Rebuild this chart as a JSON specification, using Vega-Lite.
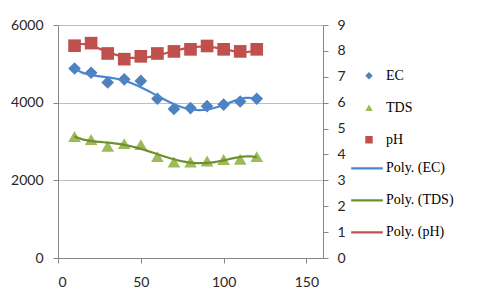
{
  "$schema": "https://vega.github.io/schema/vega-lite/v6.json",
  "width": 265,
  "height": 233,
  "autosize": {"type": "none"},
  "padding": {"left": 58, "top": 25, "right": 157, "bottom": 47},
  "background": "white",
  "config": {
    "view": {"stroke": null},
    "axis": {"labelFont": "Lato", "labelFontSize": 14, "labelColor": "#262626", "domainColor": "#868686", "tickColor": "#868686", "tickSize": 5, "title": null, "labelPadding": 9, "labelOverlap": false, "format": "d"},
    "legend": {"labelFont": "Liberation Serif", "labelFontSize": 14, "labelColor": "#000000", "padding": 0, "rowPadding": 0, "clipHeight": 31.6, "title": null}
  },
  "data": {"values": [
    {"x": 10, "series": "EC", "trend": "Poly. (EC)", "value": 4880},
    {"x": 20, "series": "EC", "trend": "Poly. (EC)", "value": 4770},
    {"x": 30, "series": "EC", "trend": "Poly. (EC)", "value": 4520},
    {"x": 40, "series": "EC", "trend": "Poly. (EC)", "value": 4600},
    {"x": 50, "series": "EC", "trend": "Poly. (EC)", "value": 4560},
    {"x": 60, "series": "EC", "trend": "Poly. (EC)", "value": 4100},
    {"x": 70, "series": "EC", "trend": "Poly. (EC)", "value": 3840},
    {"x": 80, "series": "EC", "trend": "Poly. (EC)", "value": 3860},
    {"x": 90, "series": "EC", "trend": "Poly. (EC)", "value": 3910},
    {"x": 100, "series": "EC", "trend": "Poly. (EC)", "value": 3950},
    {"x": 110, "series": "EC", "trend": "Poly. (EC)", "value": 4030},
    {"x": 120, "series": "EC", "trend": "Poly. (EC)", "value": 4100},
    {"x": 10, "series": "TDS", "trend": "Poly. (TDS)", "value": 3130},
    {"x": 20, "series": "TDS", "trend": "Poly. (TDS)", "value": 3050},
    {"x": 30, "series": "TDS", "trend": "Poly. (TDS)", "value": 2880},
    {"x": 40, "series": "TDS", "trend": "Poly. (TDS)", "value": 2945},
    {"x": 50, "series": "TDS", "trend": "Poly. (TDS)", "value": 2920},
    {"x": 60, "series": "TDS", "trend": "Poly. (TDS)", "value": 2610},
    {"x": 70, "series": "TDS", "trend": "Poly. (TDS)", "value": 2470},
    {"x": 80, "series": "TDS", "trend": "Poly. (TDS)", "value": 2470},
    {"x": 90, "series": "TDS", "trend": "Poly. (TDS)", "value": 2500},
    {"x": 100, "series": "TDS", "trend": "Poly. (TDS)", "value": 2535},
    {"x": 110, "series": "TDS", "trend": "Poly. (TDS)", "value": 2545},
    {"x": 120, "series": "TDS", "trend": "Poly. (TDS)", "value": 2610},
    {"x": 10, "series": "pH", "trend": "Poly. (pH)", "value": 8.2},
    {"x": 20, "series": "pH", "trend": "Poly. (pH)", "value": 8.3},
    {"x": 30, "series": "pH", "trend": "Poly. (pH)", "value": 7.9},
    {"x": 40, "series": "pH", "trend": "Poly. (pH)", "value": 7.68},
    {"x": 50, "series": "pH", "trend": "Poly. (pH)", "value": 7.79},
    {"x": 60, "series": "pH", "trend": "Poly. (pH)", "value": 7.9},
    {"x": 70, "series": "pH", "trend": "Poly. (pH)", "value": 7.98},
    {"x": 80, "series": "pH", "trend": "Poly. (pH)", "value": 8.06},
    {"x": 90, "series": "pH", "trend": "Poly. (pH)", "value": 8.19},
    {"x": 100, "series": "pH", "trend": "Poly. (pH)", "value": 8.06},
    {"x": 110, "series": "pH", "trend": "Poly. (pH)", "value": 7.98},
    {"x": 120, "series": "pH", "trend": "Poly. (pH)", "value": 8.06}
  ]},
  "layer": [
    {
      "transform": [{"filter": "datum.series !== 'pH'"}],
      "layer": [
        {
          "mark": {"type": "point", "filled": true, "opacity": 1, "size": 160},
          "encoding": {
            "x": {"field": "x", "type": "quantitative", "scale": {"domain": [0, 150]}, "axis": {"values": [0, 50, 100, 150], "grid": false, "labelPadding": 12}},
            "y": {"field": "value", "type": "quantitative", "scale": {"domain": [0, 6000]}, "axis": {"values": [0, 1000, 2000, 3000, 4000, 5000, 6000], "grid": true, "gridColor": "#bfbfbf", "labelPadding": 10}},
            "color": {
              "field": "series", "type": "nominal",
              "scale": {"domain": ["EC", "TDS", "pH"], "range": ["#4f81bd", "#9bbb59", "#c0504d"]},
              "legend": {"orient": "none", "legendX": 304, "legendY": 35, "symbolSize": 55, "labelOffset": 10}
            },
            "shape": {
              "field": "series", "type": "nominal",
              "scale": {"domain": ["EC", "TDS", "pH"], "range": ["diamond", "triangle-up", "square"]},
              "legend": {"orient": "none", "legendX": 304, "legendY": 35, "symbolSize": 55, "labelOffset": 10}
            }
          }
        },
        {
          "transform": [{"regression": "value", "on": "x", "groupby": ["trend"], "method": "poly", "order": 5}],
          "mark": {"type": "line", "strokeWidth": 2.2},
          "encoding": {
            "x": {"field": "x", "type": "quantitative"},
            "y": {"field": "value", "type": "quantitative"},
            "stroke": {
              "field": "trend", "type": "nominal",
              "scale": {"domain": ["Poly. (EC)", "Poly. (TDS)", "Poly. (pH)"], "range": ["#4a86d4", "#6f8f2f", "#c0504d"]},
              "legend": {"orient": "none", "legendX": 292, "legendY": 127.5, "symbolType": "stroke", "symbolSize": 1000, "symbolStrokeWidth": 2.2, "labelOffset": 2}
            }
          }
        }
      ]
    },
    {
      "transform": [{"filter": "datum.series === 'pH'"}],
      "layer": [
        {
          "mark": {"type": "point", "filled": true, "opacity": 1, "size": 160},
          "encoding": {
            "x": {"field": "x", "type": "quantitative"},
            "y": {"field": "value", "type": "quantitative", "scale": {"domain": [0, 9]}, "axis": {"orient": "right", "values": [0, 1, 2, 3, 4, 5, 6, 7, 8, 9], "tickCount": 10, "grid": false, "labelOverlap": false, "labelBound": false, "labelFlush": false}},
            "color": {"field": "series", "type": "nominal"},
            "shape": {"field": "series", "type": "nominal"}
          }
        },
        {
          "transform": [{"regression": "value", "on": "x", "groupby": ["trend"], "method": "poly", "order": 5}],
          "mark": {"type": "line", "strokeWidth": 2.2},
          "encoding": {
            "x": {"field": "x", "type": "quantitative"},
            "y": {"field": "value", "type": "quantitative", "axis": {"orient": "right", "values": [0, 1, 2, 3, 4, 5, 6, 7, 8, 9], "tickCount": 10, "grid": false, "labelOverlap": false}},
            "stroke": {"field": "trend", "type": "nominal"}
          }
        }
      ]
    }
  ],
  "resolve": {"scale": {"y": "independent"}}
}
